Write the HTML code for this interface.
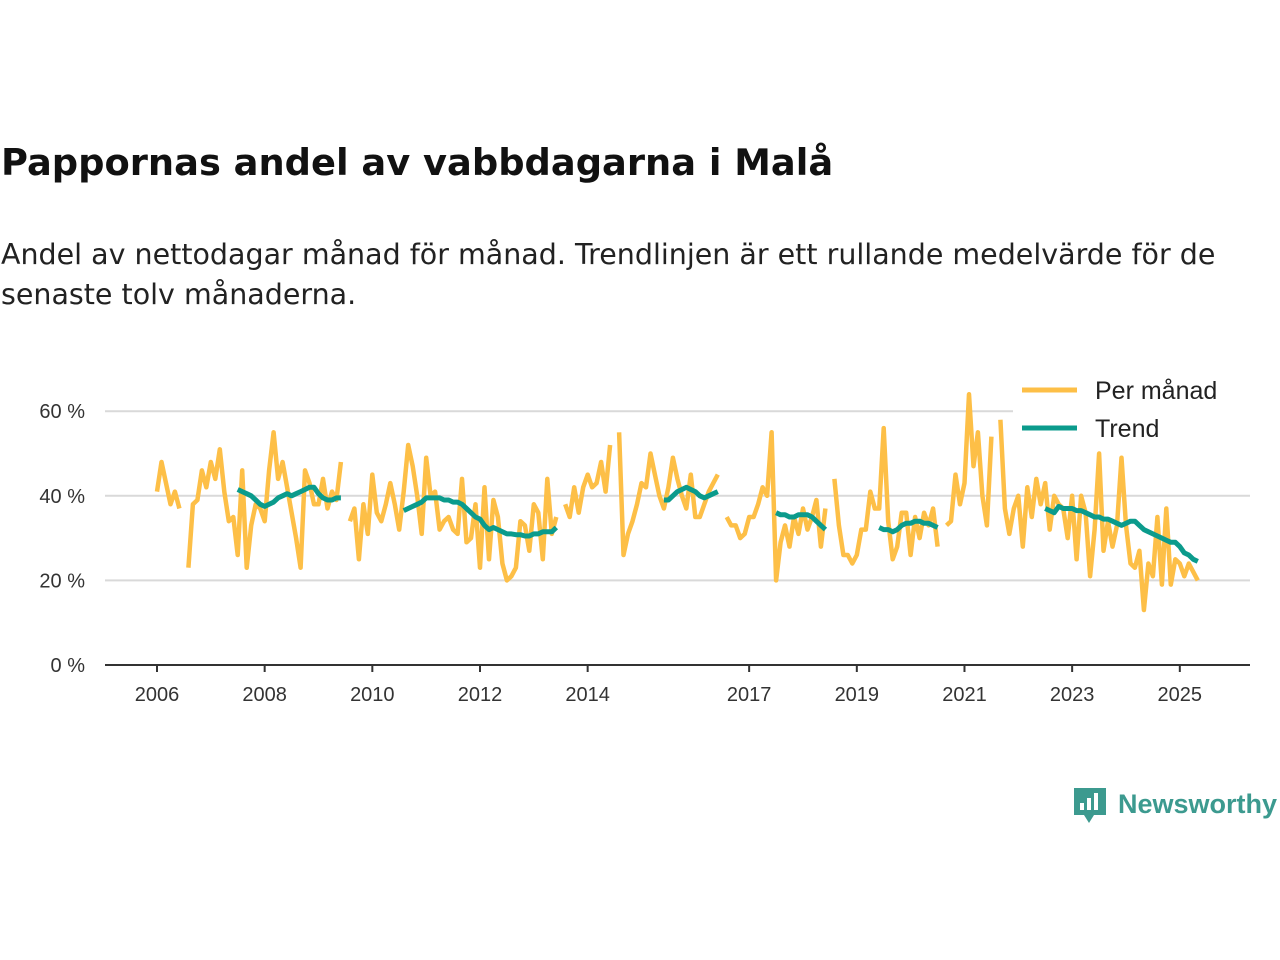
<!DOCTYPE html>
<html><head><meta charset="utf-8"><style>
body{margin:0;width:1280px;height:960px;background:#fff;font-family:"Liberation Sans",sans-serif;overflow:hidden}
#title{position:absolute;left:1px;top:141px;font-family:"DejaVu Sans",sans-serif;font-size:36.8px;font-weight:bold;color:#111;white-space:nowrap}
#sub{position:absolute;left:1px;top:235px;font-family:"DejaVu Sans",sans-serif;font-size:28.5px;line-height:40px;color:#222;white-space:nowrap}
svg{position:absolute;left:0;top:0}
</style></head><body>
<div id="title">Pappornas andel av vabbdagarna i Malå</div>
<div id="sub">Andel av nettodagar månad för månad. Trendlinjen är ett rullande medelvärde för de<br>senaste tolv månaderna.</div>
<svg id="chart" width="1280" height="960"></svg>
<script>
const monthly=[41,48,43,38,41,37,null,23,38,39,46,42,48,44,51,41,34,35,26,46,23,33,38,37,34,46,55,44,48,42,36,30,23,46,43,38,38,44,37,41,39,48,null,34,37,25,38,31,45,36,34,38,43,38,32,41,52,47,40,31,49,40,41,32,34,35,32,31,44,29,30,38,23,42,25,39,35,24,20,21,23,34,33,27,38,36,25,44,31,35,null,38,35,42,36,42,45,42,43,48,41,52,null,55,26,31,34,38,43,42,50,45,40,37,42,49,44,40,37,45,35,35,38,41,43,45,null,35,33,33,30,31,35,35,38,42,40,55,20,29,33,28,35,31,37,32,35,39,28,37,null,44,33,26,26,24,26,32,32,41,37,37,56,34,25,28,36,36,26,35,30,36,33,37,28,null,33,34,45,38,43,64,47,55,40,33,54,null,58,37,31,37,40,28,42,35,44,38,43,32,40,38,37,30,40,25,40,36,21,32,50,27,34,28,33,49,33,24,23,27,13,24,21,35,19,37,19,25,24,21,24,22,20];
const trendStart=[18,55,113,138,161,198];
const trend1=[41.5,41,40.5,40,39,38,37.5,38,38.5,39.5,40,40.5,40,40.5,41,41.5,42,42,40.5,39.5,39,39,39.5,39.5];
const trend2=[36.5,37,37.5,38,38.5,39.5,39.5,39.5,39.5,39,39,38.5,38.5,38,37,36,35,34.5,33,32,32.5,32,31.5,31,31,30.8,30.8,30.5,30.5,31,31,31.5,31.5,31.5,32.5];
const trend3=[39,39,40,41,41.5,42,41.5,41,40,39.5,40,40.5,41];
const trend4=[36,35.5,35.5,35,35,35.5,35.5,35.5,35,34,33,32];
const trend5=[32.5,32,32,31.5,32,33,33.5,33.5,34,34,33.5,33.5,33,32.5];
const trend6=[37,36.5,36,37.5,37,37,37,36.5,36.5,36,35.5,35,35,34.5,34.5,34,33.5,33,33.5,34,34,33,32,31.5,31,30.5,30,29.5,29,29,28,26.5,26,25,24.5];
const trends=[trend1,trend2,trend3,trend4,trend5,trend6];
const yTicks=[0,20,40,60];
const xYears=[2006,2008,2010,2012,2014,2017,2019,2021,2023,2025];
const NS='http://www.w3.org/2000/svg';
const svg=document.getElementById('chart');
const x=i=>157+i*4.486;
const xy=yr=>x((yr-2006)*12);
const y=v=>665-v*4.23;
function mk(t,a){const e=document.createElementNS(NS,t);for(const k in a)e.setAttribute(k,a[k]);svg.appendChild(e);return e;}
yTicks.forEach(v=>{
 if(v>0){const g=mk('line',{x1:105,x2:1250,y1:y(v),y2:y(v),stroke:'#d9d9d9','stroke-width':2});
 
 }
 const t=mk('text',{x:85,y:y(v)+7,'text-anchor':'end','font-size':20,fill:'#333'});t.textContent=v+' %';
 
 
});
const ax=mk('line',{x1:105,x2:1250,y1:665,y2:665,stroke:'#333','stroke-width':2});


xYears.forEach(yr=>{
 mk('line',{x1:xy(yr),x2:xy(yr),y1:665,y2:672,stroke:'#333','stroke-width':2});
 const t=mk('text',{x:xy(yr),y:701,'text-anchor':'middle','font-size':20,fill:'#333'});t.textContent=yr;
 
 
});
function path(vals,start){let d='',pen=false;vals.forEach((v,k)=>{if(v==null){pen=false;return;}d+=(pen?'L':'M')+x(start+k).toFixed(1)+','+y(v).toFixed(1);pen=true;});return d;}
const m=mk('path',{d:path(monthly,0),fill:'none',stroke:'#fdbf47','stroke-width':4.5,'stroke-linejoin':'round'});


trends.forEach((tv,s)=>{const p=mk('path',{d:path(tv,trendStart[s]),fill:'none',stroke:'#0b9b8c','stroke-width':5,'stroke-linejoin':'round'});
 
 });
const lb=mk('rect',{x:1013,y:372,width:237,height:72,fill:'#fff'});


mk('line',{x1:1022,x2:1077,y1:390,y2:390,stroke:'#fdbf47','stroke-width':5});
mk('line',{x1:1022,x2:1077,y1:428,y2:428,stroke:'#0b9b8c','stroke-width':5});
const l1=mk('text',{x:1095,y:399,'font-size':25,fill:'#222'});l1.textContent='Per månad';


const l2=mk('text',{x:1095,y:437,'font-size':25,fill:'#222'});l2.textContent='Trend';


const lg=mk('g',{});

mk('path',{d:'M1074,788 h32 v27 h-12 l-5,8 l-5,-8 h-10 z',fill:'#3c9a8f'});
mk('rect',{x:1080,y:803,width:4,height:7,fill:'#fff'});
mk('rect',{x:1087,y:798,width:4,height:12,fill:'#fff'});
mk('rect',{x:1094,y:793,width:4,height:17,fill:'#fff'});
const nw=mk('text',{x:1118,y:813,'font-size':27,'font-weight':'bold',fill:'#3c9a8f'});nw.textContent='Newsworthy';


</script>
</body></html>
